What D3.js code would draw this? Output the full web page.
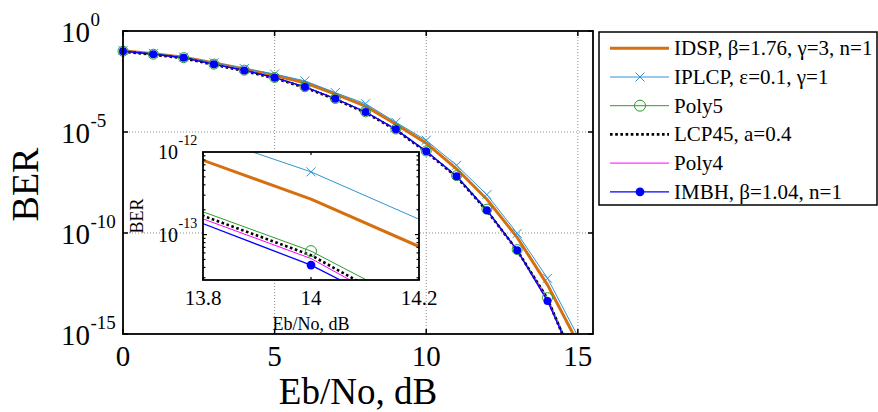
<!DOCTYPE html>
<html><head><meta charset="utf-8">
<script src="https://cdn.jsdelivr.net/npm/d3@7"></script>
<style>
body{margin:0;background:#fff}
svg{display:block}
</style>
</head><body>
<svg id="c" width="878" height="412"></svg>
<script>
// ---- data ----
const ebno  = [0,1,2,3,4,5,6,7,8,9,10,11,12,13,14,15];
const idsp  = [1.05e-1,7.59e-2,5.01e-2,2.63e-2,1.32e-2,6.31e-3,2.75e-3,7.59e-4,1.91e-4,2.40e-5,2.82e-6,1.51e-7,4.68e-9,6.03e-11,2.69e-13,3.63e-16];
const iplcp = [1.07e-1,7.76e-2,5.13e-2,2.69e-2,1.38e-2,7.41e-3,3.39e-3,8.91e-4,2.51e-4,3.02e-5,3.89e-6,2.24e-7,7.94e-9,9.55e-11,5.75e-13,7.76e-16];
const poly5 = [1.00e-1,7.08e-2,4.79e-2,2.29e-2,1.15e-2,5.01e-3,1.74e-3,4.57e-4,1.00e-4,1.41e-5,1.15e-6,6.92e-8,1.51e-9,1.51e-11,6.31e-14,2.51e-17];
const lcp45 = [9.55e-2,6.76e-2,4.47e-2,2.14e-2,1.05e-2,4.57e-3,1.58e-3,4.17e-4,9.12e-5,1.26e-5,1.02e-6,6.03e-8,1.26e-9,1.38e-11,5.62e-14,1.41e-17];
const poly4 = [1.00e-1,7.08e-2,4.68e-2,2.24e-2,1.10e-2,4.79e-3,1.66e-3,4.37e-4,9.55e-5,1.32e-5,1.07e-6,6.31e-8,1.29e-9,1.29e-11,5.13e-14,1.26e-17];
const imbh  = [1.00e-1,7.08e-2,4.79e-2,2.24e-2,1.12e-2,4.90e-3,1.70e-3,4.47e-4,9.77e-5,1.35e-5,1.10e-6,6.46e-8,1.32e-9,1.38e-11,4.27e-14,2.00e-17];
const legendLabels = ["IDSP, \u03B2=1.76, \u03B3=3, n=1","IPLCP, \u03B5=0.1, \u03B3=1","Poly5","LCP45, a=0.4","Poly4","IMBH, \u03B2=1.04, n=1"];
const xTicks = [0,5,10,15];
const yTickExps = [0,-5,-10,-15];
const insetXTicks = [13.8,14,14.2];
const insetYTickExps = [-12,-13];

// ---- setup ----
const FONT = "'Liberation Serif', 'Times New Roman', Times, serif";
const svg = d3.select("#c").attr("font-family", FONT);
function txt(g, xx, yy, size, s, anchor){
  return g.append("text").attr("x",xx).attr("y",yy).attr("font-family",FONT).attr("font-size",size)
    .attr("text-anchor",anchor||"start").attr("fill","#000").text(s);
}
const series = [
  {label:legendLabels[0], v:idsp,  color:"#d66f0f", w:3,   dash:null,  marker:null},
  {label:legendLabels[1], v:iplcp, color:"#2b95d6", w:1,   dash:null,  marker:"x"},
  {label:legendLabels[2], v:poly5, color:"#2e9a2e", w:1,   dash:null,  marker:"o"},
  {label:legendLabels[3], v:lcp45, color:"#000000", w:2.6, dash:"2.6,2.6", marker:null},
  {label:legendLabels[4], v:poly4, color:"#ff00ff", w:1,   dash:null,  marker:null},
  {label:legendLabels[5], v:imbh,  color:"#0000ff", w:1.3, dash:null,  marker:"dot"}
];

function drawMarker(g, type, cx, cy, color, s){
  if(type==="x"){
    g.append("path").attr("d",`M${cx-s},${cy-s}L${cx+s},${cy+s}M${cx-s},${cy+s}L${cx+s},${cy-s}`)
      .attr("stroke",color).attr("stroke-width",1).attr("fill","none");
  } else if(type==="o"){
    g.append("circle").attr("cx",cx).attr("cy",cy).attr("r",s).attr("fill","none")
      .attr("stroke",color).attr("stroke-width",1);
  } else if(type==="dot"){
    g.append("circle").attr("cx",cx).attr("cy",cy).attr("r",s*0.8).attr("fill",color);
  }
}

// ---- main axes ----
const x = d3.scaleLinear().domain([0,15.5]).range([123,593]);
const y = d3.scaleLog().domain([1e-15,1]).range([334,31]);
const [X0,X1] = x.range(), Y0 = y.range()[1], Y1 = y.range()[0];

svg.append("defs").append("clipPath").attr("id","clipMain")
  .append("rect").attr("x",X0).attr("y",Y0).attr("width",X1-X0).attr("height",Y1-Y0);

// grid
const grid = svg.append("g").attr("stroke","#8c8c8c").attr("stroke-width",1).attr("stroke-dasharray","1,2");
xTicks.filter(t=>t>0).forEach(t=>grid.append("line").attr("x1",x(t)).attr("x2",x(t)).attr("y1",Y0).attr("y2",Y1));
yTickExps.filter(e=>e<0 && e>-15).forEach(e=>grid.append("line").attr("x1",X0).attr("x2",X1).attr("y1",y(Math.pow(10,e))).attr("y2",y(Math.pow(10,e))));

// curves
const lineMain = d3.line().x((d,i)=>x(ebno[i])).y(d=>y(d));
const curves = svg.append("g").attr("clip-path","url(#clipMain)");
series.forEach(s=>{
  curves.append("path").attr("d",lineMain(s.v)).attr("fill","none").attr("stroke",s.color)
    .attr("stroke-width",s.w).attr("stroke-dasharray",s.dash).attr("stroke-linejoin","round");
});
const marks = svg.append("g");
series.forEach(s=>{
  if(!s.marker) return;
  s.v.forEach((v,i)=>{
    const xv=ebno[i];
    if(xv<0||xv>15.5||v<1e-15||v>1) return;
    drawMarker(marks, s.marker, x(xv), y(v), s.color, s.marker==="x"?4.5:5);
  });
});

// box and ticks
const ax = svg.append("g").attr("stroke","#000");
ax.append("rect").attr("x",X0).attr("y",Y0).attr("width",X1-X0).attr("height",Y1-Y0).attr("fill","none").attr("stroke-width",1.8);
xTicks.forEach(t=>{
  ax.append("line").attr("x1",x(t)).attr("x2",x(t)).attr("y1",Y1).attr("y2",Y1-5).attr("stroke-width",1.5);
  ax.append("line").attr("x1",x(t)).attr("x2",x(t)).attr("y1",Y0).attr("y2",Y0+5).attr("stroke-width",1.5);
});
yTickExps.forEach(e=>{
  const yy=y(Math.pow(10,e));
  ax.append("line").attr("x1",X0).attr("x2",X0+5).attr("y1",yy).attr("y2",yy).attr("stroke-width",1.5);
  ax.append("line").attr("x1",X1).attr("x2",X1-5).attr("y1",yy).attr("y2",yy).attr("stroke-width",1.5);
});
// tick labels
xTicks.forEach(t=>txt(svg, x(t), Y1+32, 29, t, "middle"));
yTickExps.forEach(e=>{
  const yy=y(Math.pow(10,e));
  txt(svg, 90, yy+11, 29, "10", "end");
  txt(svg, 90.5, yy-5, 19, e===0?"0":"-"+(-e), "start");
});
txt(svg, (X0+X1)/2, 404, 37, "Eb/No, dB", "middle");
txt(svg, 0, 0, 38, "BER", "middle").attr("transform","translate(38,184.5) rotate(-90)");

// ---- inset ----
const xi = d3.scaleLinear().domain([13.8,14.2]).range([203,419]);
const yi = d3.scaleLog().domain([Math.pow(10,-13.55),1e-12]).range([280,152]);
const [IX0,IX1]=xi.range(), IY0=yi.range()[1], IY1=yi.range()[0];
svg.select("defs").append("clipPath").attr("id","clipInset")
  .append("rect").attr("x",IX0).attr("y",IY0).attr("width",IX1-IX0).attr("height",IY1-IY0);
svg.append("rect").attr("x",IX0).attr("y",IY0).attr("width",IX1-IX0).attr("height",IY1-IY0).attr("fill","#fff");
const lineInset = d3.line().x((d,i)=>xi(ebno[i])).y(d=>yi(d));
const ic = svg.append("g").attr("clip-path","url(#clipInset)");
series.forEach(s=>{
  ic.append("path").attr("d",lineInset(s.v)).attr("fill","none").attr("stroke",s.color)
    .attr("stroke-width",s.w).attr("stroke-dasharray",s.dash).attr("stroke-linejoin","round");
});
const im = svg.append("g");
series.forEach(s=>{
  if(!s.marker) return;
  s.v.forEach((v,i)=>{
    const xv=ebno[i];
    if(xv<13.8||xv>14.2||v<yi.domain()[0]||v>1e-12) return;
    drawMarker(im, s.marker, xi(xv), yi(v), s.color, s.marker==="x"?4.5:5.5);
  });
});
const iax = svg.append("g").attr("stroke","#000");
iax.append("rect").attr("x",IX0).attr("y",IY0).attr("width",IX1-IX0).attr("height",IY1-IY0).attr("fill","none").attr("stroke-width",1.8);
insetXTicks.forEach(t=>{
  iax.append("line").attr("x1",xi(t)).attr("x2",xi(t)).attr("y1",IY1).attr("y2",IY1-3).attr("stroke-width",1.2);
  iax.append("line").attr("x1",xi(t)).attr("x2",xi(t)).attr("y1",IY0).attr("y2",IY0+3).attr("stroke-width",1.2);
  txt(svg, xi(t), IY1+25, 21, t, "middle");
});
[-14,-13].forEach(e=>{
  for(let k=1;k<=9;k++){
    const v=k*Math.pow(10,e);
    if(v<yi.domain()[0]||v>1e-12) continue;
    const yy=yi(v), L=k===1?4:2.5;
    iax.append("line").attr("x1",IX0).attr("x2",IX0+L).attr("y1",yy).attr("y2",yy).attr("stroke-width",1.2);
    iax.append("line").attr("x1",IX1).attr("x2",IX1-L).attr("y1",yy).attr("y2",yy).attr("stroke-width",1.2);
  }
});
insetYTickExps.forEach(e=>{
  const yy=yi(Math.pow(10,e));
  txt(svg, 178, yy+7, 20, "10", "end");
  txt(svg, 178.5, yy-7, 14, "-"+(-e), "start");
});
txt(svg, (IX0+IX1)/2, 330, 18, "Eb/No, dB", "middle");
txt(svg, 0, 0, 18, "BER", "middle").attr("transform","translate(143,216) rotate(-90)");

// ---- legend ----
const lg = svg.append("g");
lg.append("rect").attr("x",599).attr("y",32).attr("width",278).attr("height",173).attr("fill","#fff").attr("stroke","#000").attr("stroke-width",1.5);
series.forEach((s,i)=>{
  const yy = 48.3 + i*28.7;
  lg.append("line").attr("x1",610).attr("x2",669).attr("y1",yy).attr("y2",yy).attr("stroke",s.color)
    .attr("stroke-width",s.w).attr("stroke-dasharray",s.dash);
  if(s.marker) drawMarker(lg, s.marker, 640, yy, s.color, s.marker==="x"?4.5:5.5);
  txt(lg, 674, yy+7, 21, s.label, "start");
});
</script>
</body></html>
